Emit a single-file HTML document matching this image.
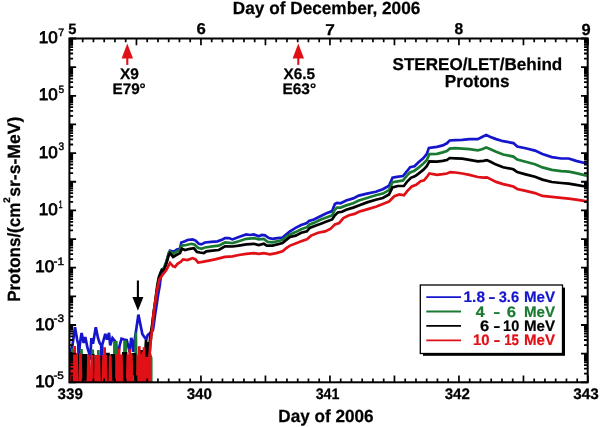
<!DOCTYPE html>
<html lang="en"><head><meta charset="utf-8"><title>STEREO/LET/Behind Protons</title>
<style>html,body{margin:0;padding:0;background:#fff;overflow:hidden}svg{display:block;will-change:transform}text{font-family:"Liberation Sans", Arial, Helvetica, sans-serif;fill:#000;text-rendering:geometricPrecision}.b{font-weight:bold}</style></head><body>
<svg width="600" height="427" viewBox="0 0 600 427">
<rect x="0" y="0" width="600" height="427" fill="#fff"/>
<defs><clipPath id="c"><rect x="69.4" y="38.5" width="518.3" height="343.8"/></clipPath></defs>
<g clip-path="url(#c)">
<polyline fill="none" stroke="#1515cc" stroke-width="2.70" stroke-linejoin="miter" stroke-miterlimit="3" stroke-linecap="butt" points="70.3,352.7 72.5,345.0 75.0,327.3 77.2,340.0 78.3,344.5 78.9,382.0 79.6,346.0 80.5,340.0 81.6,333.0 83.7,342.9 85.3,337.0 87.5,348.0 89.0,352.7 90.3,360.0 91.0,345.0 91.4,338.0 93.0,343.7 95.8,327.3 98.0,338.0 99.6,342.9 101.2,345.3 101.6,382.0 102.2,345.0 105.3,333.9 107.0,339.6 109.0,333.0 110.2,345.4 112.5,338.0 115.0,341.0 117.0,350.0 118.2,354.5 119.5,346.0 121.5,338.7 124.0,339.5 126.7,340.2 128.5,347.0 129.7,352.2 131.2,338.0 132.7,342.5 133.4,352.0 135.0,338.0 138.4,314.6 140.5,325.0 142.4,334.2 146.2,339.5 147.7,335.0 149.5,333.5 151.5,332.0 153.0,330.0 154.0,323.0 155.2,314.0 156.6,305.0 158.0,295.3 159.6,286.5 160.8,277.0 162.2,270.0 163.8,268.5 166.3,262.0 168.8,253.0 170.0,250.6 173.8,251.9 176.9,249.4 180.0,248.8 181.3,242.5 185.0,241.3 187.5,240.0 192.5,239.4 195.6,240.6 198.8,243.8 201.3,244.4 205.0,242.5 211.3,241.9 217.5,241.3 222.5,239.4 225.0,238.1 228.8,238.1 232.5,239.4 238.8,236.9 246.3,234.4 250.0,235.0 253.8,234.4 258.8,236.3 261.9,235.0 265.0,235.3 268.8,238.1 272.5,238.8 277.5,238.1 282.5,237.5 286.3,234.4 290.0,231.3 295.6,227.9 301.2,225.1 306.9,223.0 309.0,220.9 313.9,219.5 320.9,216.0 326.5,213.2 332.1,211.1 334.9,204.0 337.0,202.9 340.6,203.3 346.2,200.5 353.2,198.4 358.8,195.6 367.0,193.6 375.8,191.8 382.8,189.2 389.0,185.7 392.5,177.8 396.9,176.9 403.0,176.0 407.4,170.7 410.1,167.2 414.5,166.3 418.0,162.8 423.2,158.4 426.7,154.1 428.9,147.9 437.0,146.8 442.7,145.4 446.9,143.3 449.7,140.5 455.3,140.2 462.3,139.8 469.4,139.1 477.8,139.1 482.0,137.0 486.2,135.1 490.5,137.0 496.1,139.1 503.1,141.2 513.4,143.1 517.2,146.5 525.6,148.2 535.0,150.6 542.4,154.0 551.8,157.1 561.2,158.5 568.7,158.5 576.1,160.9 585.5,163.3 587.4,163.7"/>
<polyline fill="none" stroke="#1b7a32" stroke-width="2.70" stroke-linejoin="miter" stroke-miterlimit="3" stroke-linecap="butt" points="70.0,382.0 71.9,382.0 72.5,348.4 73.1,382.0 80.9,382.0 81.5,349.0 82.1,382.0 92.1,382.0 92.7,349.5 93.3,382.0 97.8,382.0 98.4,350.0 99.0,382.0 113.9,382.0 114.5,341.0 115.2,363.0 115.7,382.0 116.3,341.0 116.9,382.0 124.0,382.0 124.6,340.5 125.3,362.5 125.6,340.5 126.2,382.0 135.3,382.0 135.9,332.5 136.5,382.0 146.4,382.0 147.0,356.0 147.6,382.0 150.4,382.0 151.2,382.0 151.2,358.0 149.6,353.0 150.8,340.0 152.2,328.0 152.4,325.0 153.5,314.0 154.8,305.0 156.2,295.3 157.6,286.0 159.2,277.5 161.9,269.5 163.8,268.5 166.3,262.0 168.8,253.5 170.0,251.3 173.1,253.8 176.3,251.9 180.0,250.0 181.9,245.6 186.3,245.0 191.3,243.8 194.4,244.4 197.5,247.5 201.3,248.8 205.0,247.5 212.5,246.3 218.8,245.6 225.0,242.5 232.5,243.1 238.8,241.3 246.3,238.8 253.8,238.1 258.8,239.4 263.8,238.8 267.5,241.9 272.5,242.3 282.5,240.0 286.3,236.9 290.0,234.4 295.6,232.1 301.2,229.3 306.9,227.2 309.7,224.4 315.3,222.3 320.9,219.5 326.5,217.4 332.1,215.3 334.9,209.7 337.0,207.6 340.6,207.6 346.2,205.4 353.2,203.3 358.8,200.5 367.0,198.0 375.8,195.3 382.8,193.6 389.0,190.1 392.5,182.2 397.8,181.3 403.0,180.4 407.4,175.1 410.1,172.5 414.5,170.7 418.0,168.1 423.2,163.7 426.7,160.2 429.4,154.1 437.0,153.8 442.7,152.4 446.9,151.0 449.7,148.6 455.3,148.2 462.3,148.6 469.4,149.2 477.8,150.3 482.0,149.2 486.2,147.5 490.5,149.2 496.1,151.7 503.1,154.5 513.4,156.6 517.2,159.6 525.6,161.8 535.0,164.3 542.4,167.4 551.8,169.9 561.2,171.2 568.7,171.6 576.1,173.1 585.5,175.3 587.4,175.6"/>
<polyline fill="none" stroke="#000" stroke-width="2.70" stroke-linejoin="miter" stroke-miterlimit="3" stroke-linecap="butt" points="70.0,382.0 70.7,382.0 71.2,352.0 71.8,382.0 77.6,382.0 78.2,354.0 78.8,382.0 82.4,382.0 83.0,354.0 83.7,376.0 84.0,382.0 84.6,354.0 85.3,376.0 85.6,382.0 86.2,354.0 86.8,382.0 92.7,382.0 93.3,354.0 93.9,382.0 100.2,382.0 100.8,356.0 101.3,382.0 106.2,382.0 106.8,352.9 107.5,374.9 107.9,382.0 108.5,352.9 109.1,382.0 111.2,382.0 111.8,354.0 112.5,376.0 113.2,382.0 113.8,354.0 114.4,382.0 122.7,382.0 123.3,352.0 124.0,374.0 124.1,382.0 124.7,352.0 125.3,374.0 125.4,382.0 126.0,352.0 126.6,382.0 132.2,382.0 132.8,353.0 133.5,375.0 133.9,353.0 134.6,375.0 135.0,353.0 135.6,382.0 140.4,382.0 141.0,350.0 141.7,372.0 142.0,350.0 142.6,382.0 144.0,382.0 146.0,340.0 147.0,357.0 148.0,342.0 149.0,357.0 150.0,339.0 151.3,330.0 152.3,323.7 153.5,314.0 154.8,305.0 156.0,295.3 157.2,286.0 158.7,277.5 160.6,272.5 161.9,270.0 163.8,270.6 166.3,263.8 168.8,255.0 170.0,253.1 173.1,256.9 176.3,255.0 180.0,253.1 181.9,248.8 185.0,250.0 190.0,248.8 193.8,248.1 196.9,251.9 200.0,252.5 203.8,253.1 206.3,251.3 212.5,250.6 218.8,250.0 225.0,246.3 232.5,246.5 238.8,245.6 246.3,244.4 253.8,243.8 258.8,245.0 263.8,243.8 266.9,245.6 272.5,245.6 282.5,243.1 286.3,240.0 290.0,236.9 295.6,235.6 301.2,232.8 306.9,231.4 309.7,227.9 315.3,225.8 320.9,223.7 326.5,221.6 332.1,219.5 334.9,215.3 337.8,212.5 342.0,211.8 346.2,209.7 353.2,207.6 358.8,205.4 367.0,202.4 375.8,199.7 382.8,198.0 389.0,194.5 392.5,187.4 397.8,186.0 403.9,186.0 407.4,181.3 410.9,177.8 415.3,176.0 418.8,173.4 423.2,169.9 426.7,166.3 429.4,161.4 437.0,161.6 442.7,160.9 446.9,160.1 449.7,158.0 455.3,158.3 462.3,158.7 469.4,159.9 477.8,161.3 483.4,160.9 486.9,160.1 490.5,161.8 496.1,164.6 503.1,167.2 513.4,169.3 517.2,172.1 525.6,174.4 535.0,176.8 542.4,179.6 551.8,182.0 561.2,183.0 568.7,183.7 576.1,184.9 585.5,186.5 587.4,186.8"/>
<polyline fill="none" stroke="#e01016" stroke-width="2.70" stroke-linejoin="miter" stroke-miterlimit="3" stroke-linecap="butt" points="70.0,382.0 71.2,382.0 71.8,355.0 72.4,382.0 73.2,382.0 73.8,353.0 74.4,382.0 74.7,346.1 75.3,382.0 75.9,382.0 76.5,353.0 77.1,382.0 79.9,382.0 80.5,353.5 81.0,382.0 87.9,382.0 88.5,354.6 89.1,382.0 91.2,382.0 91.8,355.0 92.4,382.0 95.3,382.0 95.9,355.0 96.6,377.0 96.8,382.0 97.4,355.0 98.1,377.0 98.3,382.0 98.9,355.0 99.5,382.0 103.0,382.0 103.6,355.0 104.2,382.0 104.6,347.2 105.2,382.0 105.6,355.0 106.2,382.0 109.7,382.0 110.3,355.7 110.9,382.0 116.5,382.0 117.1,354.5 117.7,382.0 118.4,382.0 119.0,348.5 119.6,382.0 120.8,382.0 121.4,354.5 122.0,382.0 127.2,382.0 127.8,354.5 128.4,382.0 129.2,382.0 129.8,349.0 130.4,382.0 130.8,382.0 131.4,354.5 132.0,382.0 137.3,382.0 137.9,355.0 138.5,382.0 138.7,382.0 139.3,346.3 139.9,382.0 140.3,354.0 140.9,382.0 142.3,382.0 142.9,352.0 143.5,382.0 144.0,347.3 144.6,382.0 145.5,382.0 146.1,357.0 146.8,379.0 147.4,357.0 148.1,379.0 148.7,357.0 149.3,382.0 149.6,382.0 149.5,356.0 150.8,340.0 152.3,328.0 152.8,323.7 152.8,323.7 153.5,314.0 154.8,305.0 156.2,295.3 157.8,286.0 159.4,279.4 162.5,275.0 166.3,270.0 170.0,262.8 173.1,266.3 175.0,266.9 177.5,263.8 180.6,261.9 183.1,259.4 187.5,260.0 192.5,258.1 195.6,259.4 198.1,262.5 202.5,261.9 208.8,260.6 215.0,259.4 220.0,258.1 225.0,256.9 232.5,256.3 238.8,255.0 246.3,253.8 253.8,253.1 258.8,253.8 263.8,253.1 270.0,254.4 276.3,253.1 282.5,251.3 286.3,248.1 290.0,245.6 295.6,243.4 301.2,241.3 306.9,239.2 311.1,235.6 318.1,232.8 325.1,231.4 330.7,228.6 334.9,224.4 339.2,223.0 343.4,218.1 349.0,215.3 354.6,213.9 358.8,211.8 367.0,209.4 375.8,206.7 382.8,204.1 389.0,201.5 394.3,196.2 399.5,194.5 403.9,195.3 407.4,190.9 411.8,186.5 416.2,184.8 420.6,181.3 424.1,180.4 427.6,176.0 429.4,173.4 437.0,174.9 442.7,174.2 446.9,173.5 450.4,172.1 455.3,172.5 462.3,173.5 469.4,174.9 477.8,177.0 483.4,177.7 486.9,177.3 490.5,179.1 496.1,181.9 503.1,184.1 513.4,186.5 517.2,189.0 525.6,190.9 535.0,193.1 542.4,195.9 551.8,196.8 561.2,197.8 568.7,198.7 576.1,199.6 585.5,201.1 587.4,201.4"/>
</g>
<path d="M71.95 38.50v6.70M71.95 382.30v-6.70M82.70 38.50v3.80M82.70 382.30v-3.80M93.45 38.50v3.80M93.45 382.30v-3.80M104.20 38.50v3.80M104.20 382.30v-3.80M114.95 38.50v3.80M114.95 382.30v-3.80M125.70 38.50v3.80M125.70 382.30v-3.80M136.45 38.50v6.70M136.45 382.30v-6.70M147.20 38.50v3.80M147.20 382.30v-3.80M157.95 38.50v3.80M157.95 382.30v-3.80M168.70 38.50v3.80M168.70 382.30v-3.80M179.45 38.50v3.80M179.45 382.30v-3.80M190.20 38.50v3.80M190.20 382.30v-3.80M200.95 38.50v6.70M200.95 382.30v-6.70M211.70 38.50v3.80M211.70 382.30v-3.80M222.45 38.50v3.80M222.45 382.30v-3.80M233.20 38.50v3.80M233.20 382.30v-3.80M243.95 38.50v3.80M243.95 382.30v-3.80M254.70 38.50v3.80M254.70 382.30v-3.80M265.45 38.50v6.70M265.45 382.30v-6.70M276.20 38.50v3.80M276.20 382.30v-3.80M286.95 38.50v3.80M286.95 382.30v-3.80M297.70 38.50v3.80M297.70 382.30v-3.80M308.45 38.50v3.80M308.45 382.30v-3.80M319.20 38.50v3.80M319.20 382.30v-3.80M329.95 38.50v6.70M329.95 382.30v-6.70M340.70 38.50v3.80M340.70 382.30v-3.80M351.45 38.50v3.80M351.45 382.30v-3.80M362.20 38.50v3.80M362.20 382.30v-3.80M372.95 38.50v3.80M372.95 382.30v-3.80M383.70 38.50v3.80M383.70 382.30v-3.80M394.45 38.50v6.70M394.45 382.30v-6.70M405.20 38.50v3.80M405.20 382.30v-3.80M415.95 38.50v3.80M415.95 382.30v-3.80M426.70 38.50v3.80M426.70 382.30v-3.80M437.45 38.50v3.80M437.45 382.30v-3.80M448.20 38.50v3.80M448.20 382.30v-3.80M458.95 38.50v6.70M458.95 382.30v-6.70M469.70 38.50v3.80M469.70 382.30v-3.80M480.45 38.50v3.80M480.45 382.30v-3.80M491.20 38.50v3.80M491.20 382.30v-3.80M501.95 38.50v3.80M501.95 382.30v-3.80M512.70 38.50v3.80M512.70 382.30v-3.80M523.45 38.50v6.70M523.45 382.30v-6.70M534.20 38.50v3.80M534.20 382.30v-3.80M544.95 38.50v3.80M544.95 382.30v-3.80M555.70 38.50v3.80M555.70 382.30v-3.80M566.45 38.50v3.80M566.45 382.30v-3.80M577.20 38.50v3.80M577.20 382.30v-3.80M587.95 38.50v6.70M587.95 382.30v-6.70" stroke="#000" stroke-width="1.7" fill="none"/>
<path d="M69.40 382.30h6.70M587.70 382.30h-6.70M69.40 373.68h3.70M587.70 373.68h-3.70M69.40 368.63h3.70M587.70 368.63h-3.70M69.40 365.05h3.70M587.70 365.05h-3.70M69.40 362.27h3.70M587.70 362.27h-3.70M69.40 360.01h3.70M587.70 360.01h-3.70M69.40 358.09h3.70M587.70 358.09h-3.70M69.40 356.43h3.70M587.70 356.43h-3.70M69.40 354.96h3.70M587.70 354.96h-3.70M69.40 353.65h6.70M587.70 353.65h-6.70M69.40 345.03h3.70M587.70 345.03h-3.70M69.40 339.98h3.70M587.70 339.98h-3.70M69.40 336.40h3.70M587.70 336.40h-3.70M69.40 333.62h3.70M587.70 333.62h-3.70M69.40 331.36h3.70M587.70 331.36h-3.70M69.40 329.44h3.70M587.70 329.44h-3.70M69.40 327.78h3.70M587.70 327.78h-3.70M69.40 326.31h3.70M587.70 326.31h-3.70M69.40 325.00h6.70M587.70 325.00h-6.70M69.40 316.38h3.70M587.70 316.38h-3.70M69.40 311.33h3.70M587.70 311.33h-3.70M69.40 307.75h3.70M587.70 307.75h-3.70M69.40 304.97h3.70M587.70 304.97h-3.70M69.40 302.71h3.70M587.70 302.71h-3.70M69.40 300.79h3.70M587.70 300.79h-3.70M69.40 299.13h3.70M587.70 299.13h-3.70M69.40 297.66h3.70M587.70 297.66h-3.70M69.40 296.35h6.70M587.70 296.35h-6.70M69.40 287.73h3.70M587.70 287.73h-3.70M69.40 282.68h3.70M587.70 282.68h-3.70M69.40 279.10h3.70M587.70 279.10h-3.70M69.40 276.32h3.70M587.70 276.32h-3.70M69.40 274.06h3.70M587.70 274.06h-3.70M69.40 272.14h3.70M587.70 272.14h-3.70M69.40 270.48h3.70M587.70 270.48h-3.70M69.40 269.01h3.70M587.70 269.01h-3.70M69.40 267.70h6.70M587.70 267.70h-6.70M69.40 259.08h3.70M587.70 259.08h-3.70M69.40 254.03h3.70M587.70 254.03h-3.70M69.40 250.45h3.70M587.70 250.45h-3.70M69.40 247.67h3.70M587.70 247.67h-3.70M69.40 245.41h3.70M587.70 245.41h-3.70M69.40 243.49h3.70M587.70 243.49h-3.70M69.40 241.83h3.70M587.70 241.83h-3.70M69.40 240.36h3.70M587.70 240.36h-3.70M69.40 239.05h6.70M587.70 239.05h-6.70M69.40 230.43h3.70M587.70 230.43h-3.70M69.40 225.38h3.70M587.70 225.38h-3.70M69.40 221.80h3.70M587.70 221.80h-3.70M69.40 219.02h3.70M587.70 219.02h-3.70M69.40 216.76h3.70M587.70 216.76h-3.70M69.40 214.84h3.70M587.70 214.84h-3.70M69.40 213.18h3.70M587.70 213.18h-3.70M69.40 211.71h3.70M587.70 211.71h-3.70M69.40 210.40h6.70M587.70 210.40h-6.70M69.40 201.78h3.70M587.70 201.78h-3.70M69.40 196.73h3.70M587.70 196.73h-3.70M69.40 193.15h3.70M587.70 193.15h-3.70M69.40 190.37h3.70M587.70 190.37h-3.70M69.40 188.11h3.70M587.70 188.11h-3.70M69.40 186.19h3.70M587.70 186.19h-3.70M69.40 184.53h3.70M587.70 184.53h-3.70M69.40 183.06h3.70M587.70 183.06h-3.70M69.40 181.75h6.70M587.70 181.75h-6.70M69.40 173.13h3.70M587.70 173.13h-3.70M69.40 168.08h3.70M587.70 168.08h-3.70M69.40 164.50h3.70M587.70 164.50h-3.70M69.40 161.72h3.70M587.70 161.72h-3.70M69.40 159.46h3.70M587.70 159.46h-3.70M69.40 157.54h3.70M587.70 157.54h-3.70M69.40 155.88h3.70M587.70 155.88h-3.70M69.40 154.41h3.70M587.70 154.41h-3.70M69.40 153.10h6.70M587.70 153.10h-6.70M69.40 144.48h3.70M587.70 144.48h-3.70M69.40 139.43h3.70M587.70 139.43h-3.70M69.40 135.85h3.70M587.70 135.85h-3.70M69.40 133.07h3.70M587.70 133.07h-3.70M69.40 130.81h3.70M587.70 130.81h-3.70M69.40 128.89h3.70M587.70 128.89h-3.70M69.40 127.23h3.70M587.70 127.23h-3.70M69.40 125.76h3.70M587.70 125.76h-3.70M69.40 124.45h6.70M587.70 124.45h-6.70M69.40 115.83h3.70M587.70 115.83h-3.70M69.40 110.78h3.70M587.70 110.78h-3.70M69.40 107.20h3.70M587.70 107.20h-3.70M69.40 104.42h3.70M587.70 104.42h-3.70M69.40 102.16h3.70M587.70 102.16h-3.70M69.40 100.24h3.70M587.70 100.24h-3.70M69.40 98.58h3.70M587.70 98.58h-3.70M69.40 97.11h3.70M587.70 97.11h-3.70M69.40 95.80h6.70M587.70 95.80h-6.70M69.40 87.18h3.70M587.70 87.18h-3.70M69.40 82.13h3.70M587.70 82.13h-3.70M69.40 78.55h3.70M587.70 78.55h-3.70M69.40 75.77h3.70M587.70 75.77h-3.70M69.40 73.51h3.70M587.70 73.51h-3.70M69.40 71.59h3.70M587.70 71.59h-3.70M69.40 69.93h3.70M587.70 69.93h-3.70M69.40 68.46h3.70M587.70 68.46h-3.70M69.40 67.15h6.70M587.70 67.15h-6.70M69.40 58.53h3.70M587.70 58.53h-3.70M69.40 53.48h3.70M587.70 53.48h-3.70M69.40 49.90h3.70M587.70 49.90h-3.70M69.40 47.12h3.70M587.70 47.12h-3.70M69.40 44.86h3.70M587.70 44.86h-3.70M69.40 42.94h3.70M587.70 42.94h-3.70M69.40 41.28h3.70M587.70 41.28h-3.70M69.40 39.81h3.70M587.70 39.81h-3.70M69.40 38.50h6.70M587.70 38.50h-6.70" stroke="#000" stroke-width="1.8" fill="none"/>
<rect x="69.40" y="38.50" width="518.30" height="343.80" fill="none" stroke="#000" stroke-width="2.0"/>
<text class="b" transform="translate(232.84 14.30) scale(0.9789 1)" font-size="17.59" stroke="#000" stroke-width="0.25">Day of December, 2006</text>
<text class="b" transform="translate(278.34 421.60) scale(0.9746 1)" font-size="17.59" stroke="#000" stroke-width="0.25">Day of 2006</text>
<g transform="translate(19.5 300.7) rotate(-90)">
<text class="b" transform="translate(-1.15 0.00) scale(0.9598 1)" font-size="17.73" stroke="#000" stroke-width="0.25">Protons/(cm</text>
<text class="b" transform="translate(97.86 -9.50) scale(1.0154 1)" font-size="9.59" stroke="#000" stroke-width="0.25">2</text>
<text class="b" transform="translate(103.88 0.00) scale(0.9929 1)" font-size="17.73" stroke="#000" stroke-width="0.25">sr-s-MeV)</text>
</g>
<text class="b" transform="translate(68.26 33.60) scale(0.9801 1)" font-size="14.97" stroke="#000" stroke-width="0.25">5</text>
<text class="b" transform="translate(196.47 33.90) scale(1.0694 1)" font-size="15.70" stroke="#000" stroke-width="0.25">6</text>
<text class="b" transform="translate(325.37 35.00) scale(1.0979 1)" font-size="15.70" stroke="#000" stroke-width="0.25">7</text>
<text class="b" transform="translate(454.59 33.90) scale(0.9960 1)" font-size="15.70" stroke="#000" stroke-width="0.25">8</text>
<text class="b" transform="translate(581.52 35.10) scale(1.0317 1)" font-size="15.99" stroke="#000" stroke-width="0.25">9</text>
<text class="b" transform="translate(57.56 398.80) scale(0.9930 1)" font-size="15.26" stroke="#000" stroke-width="0.25">339</text>
<text class="b" transform="translate(186.66 398.80) scale(0.9961 1)" font-size="15.26" stroke="#000" stroke-width="0.25">340</text>
<text class="b" transform="translate(315.68 398.80) scale(0.9317 1)" font-size="15.26" stroke="#000" stroke-width="0.25">341</text>
<text class="b" transform="translate(444.66 398.80) scale(0.9905 1)" font-size="15.26" stroke="#000" stroke-width="0.25">342</text>
<text class="b" transform="translate(573.36 398.80) scale(1.0012 1)" font-size="15.26" stroke="#000" stroke-width="0.25">343</text>
<text transform="translate(58.27 35.60) scale(0.9808 1)" font-size="10.76" stroke="#000" stroke-width="0.45">7</text>
<text transform="translate(38.82 43.10) scale(1.0196 1)" font-size="16.72" stroke="#000" stroke-width="0.8">10</text>
<text transform="translate(58.40 92.90) scale(0.9395 1)" font-size="10.76" stroke="#000" stroke-width="0.45">5</text>
<text transform="translate(38.82 100.40) scale(1.0196 1)" font-size="16.72" stroke="#000" stroke-width="0.8">10</text>
<text transform="translate(58.42 150.20) scale(0.9395 1)" font-size="10.76" stroke="#000" stroke-width="0.45">3</text>
<text transform="translate(38.82 157.70) scale(1.0196 1)" font-size="16.72" stroke="#000" stroke-width="0.8">10</text>
<text transform="translate(58.80 207.50) scale(0.6234 1)" font-size="10.76" stroke="#000" stroke-width="0.45">1</text>
<text transform="translate(38.82 215.00) scale(1.0196 1)" font-size="16.72" stroke="#000" stroke-width="0.8">10</text>
<text transform="translate(53.47 264.80) scale(1.0993 1)" font-size="10.76" stroke="#000" stroke-width="0.45">-1</text>
<text transform="translate(35.22 272.30) scale(1.0196 1)" font-size="16.72" stroke="#000" stroke-width="0.8">10</text>
<text transform="translate(53.47 322.10) scale(1.0924 1)" font-size="10.76" stroke="#000" stroke-width="0.45">-3</text>
<text transform="translate(35.22 329.60) scale(1.0196 1)" font-size="16.72" stroke="#000" stroke-width="0.8">10</text>
<text transform="translate(53.47 379.40) scale(1.0890 1)" font-size="10.76" stroke="#000" stroke-width="0.45">-5</text>
<text transform="translate(35.22 386.90) scale(1.0196 1)" font-size="16.72" stroke="#000" stroke-width="0.8">10</text>
<path d="M127.3 43.6L121.6 58.6L133.0 58.6Z" fill="#e01016"/>
<path d="M127.3 57.6V64.9" stroke="#e01016" stroke-width="2.1" fill="none"/>
<path d="M298.3 43.6L292.6 58.6L304.0 58.6Z" fill="#e01016"/>
<path d="M298.3 57.6V64.9" stroke="#e01016" stroke-width="2.1" fill="none"/>
<text class="b" transform="translate(120.05 78.50) scale(1.0128 1)" font-size="15.26" stroke="#000" stroke-width="0.25">X9</text>
<text class="b" transform="translate(112.47 93.90) scale(1.0003 1)" font-size="15.26" stroke="#000" stroke-width="0.25">E79°</text>
<text class="b" transform="translate(283.55 78.60) scale(1.0068 1)" font-size="15.26" stroke="#000" stroke-width="0.25">X6.5</text>
<text class="b" transform="translate(282.46 94.00) scale(1.0129 1)" font-size="15.26" stroke="#000" stroke-width="0.25">E63°</text>
<text class="b" transform="translate(392.49 69.70) scale(0.9962 1)" font-size="17.15" stroke="#000" stroke-width="0.25">STEREO/LET/Behind</text>
<text class="b" transform="translate(444.84 86.90) scale(0.9925 1)" font-size="17.30" stroke="#000" stroke-width="0.25">Protons</text>
<path d="M137.9 280.5V298" stroke="#000" stroke-width="2.1" fill="none"/>
<path d="M132.4 297L143.4 297L137.9 310.8Z" fill="#000"/>
<rect x="423" y="287.6" width="142" height="68.2" fill="#000"/>
<rect x="420.3" y="285.0" width="142.2" height="68.5" fill="#fff" stroke="#000" stroke-width="1.3"/>
<path d="M426.3 297.2H461" stroke="#1515cc" stroke-width="1.8" fill="none"/>
<text class="b" transform="translate(463.54 302.10) scale(1.0197 1)" font-size="15.12" style="fill:#1515cc" stroke="#1515cc" stroke-width="0.2">1.8</text>
<text class="b" transform="translate(488.13 302.10) scale(1.4410 1)" font-size="15.12" style="fill:#1515cc" stroke="#1515cc" stroke-width="0.2">-</text>
<text class="b" transform="translate(498.67 302.10) scale(0.9731 1)" font-size="15.12" style="fill:#1515cc" stroke="#1515cc" stroke-width="0.2">3.6</text>
<text class="b" transform="translate(523.98 302.10) scale(1.0011 1)" font-size="15.12" style="fill:#1515cc" stroke="#1515cc" stroke-width="0.2">MeV</text>
<path d="M426.3 311.5H461" stroke="#1b7a32" stroke-width="1.8" fill="none"/>
<text class="b" transform="translate(475.76 316.50) scale(1.0510 1)" font-size="15.12" style="fill:#1b7a32" stroke="#1b7a32" stroke-width="0.2">4</text>
<text class="b" transform="translate(493.16 316.50) scale(1.3886 1)" font-size="15.12" style="fill:#1b7a32" stroke="#1b7a32" stroke-width="0.2">-</text>
<text class="b" transform="translate(506.77 316.50) scale(1.1106 1)" font-size="15.12" style="fill:#1b7a32" stroke="#1b7a32" stroke-width="0.2">6</text>
<text class="b" transform="translate(523.98 316.50) scale(1.0011 1)" font-size="15.12" style="fill:#1b7a32" stroke="#1b7a32" stroke-width="0.2">MeV</text>
<path d="M426.3 325.9H461" stroke="#000" stroke-width="1.8" fill="none"/>
<text class="b" transform="translate(479.88 330.90) scale(1.0969 1)" font-size="15.12" style="fill:#000" stroke="#000" stroke-width="0.2">6</text>
<text class="b" transform="translate(493.14 330.90) scale(1.4148 1)" font-size="15.12" style="fill:#000" stroke="#000" stroke-width="0.2">-</text>
<text class="b" transform="translate(503.09 330.90) scale(0.9587 1)" font-size="15.12" style="fill:#000" stroke="#000" stroke-width="0.2">10</text>
<text class="b" transform="translate(523.98 330.90) scale(1.0011 1)" font-size="15.12" style="fill:#000" stroke="#000" stroke-width="0.2">MeV</text>
<path d="M426.3 340.3H461" stroke="#e01016" stroke-width="1.8" fill="none"/>
<text class="b" transform="translate(473.07 345.30) scale(0.9849 1)" font-size="15.12" style="fill:#e01016" stroke="#e01016" stroke-width="0.2">10</text>
<text class="b" transform="translate(493.58 345.30) scale(1.3624 1)" font-size="15.12" style="fill:#e01016" stroke="#e01016" stroke-width="0.2">-</text>
<text class="b" transform="translate(504.17 345.30) scale(0.8821 1)" font-size="15.12" style="fill:#e01016" stroke="#e01016" stroke-width="0.2">15</text>
<text class="b" transform="translate(523.98 345.30) scale(1.0011 1)" font-size="15.12" style="fill:#e01016" stroke="#e01016" stroke-width="0.2">MeV</text>
</svg></body></html>
